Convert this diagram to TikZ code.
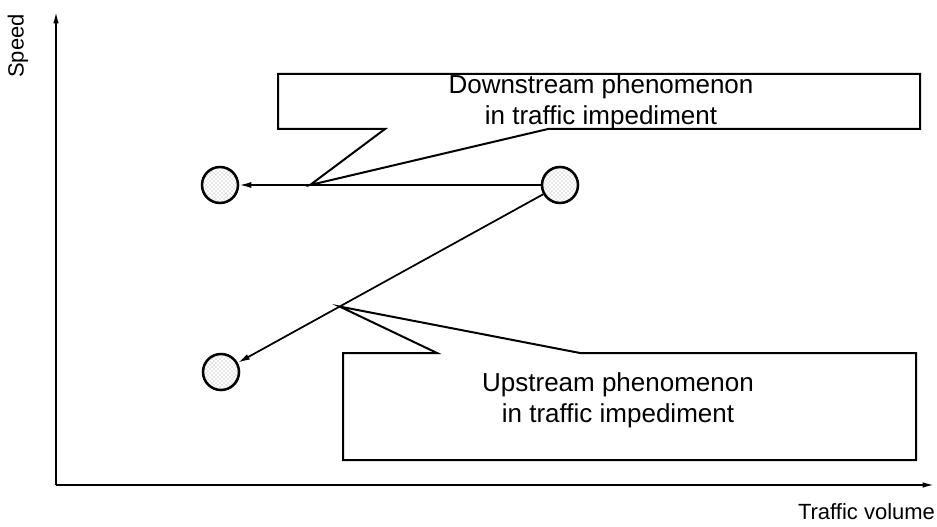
\documentclass[tikz,border=0pt]{standalone}
\usepackage{fontspec}
\setmainfont{Liberation Sans}
\usetikzlibrary{arrows.meta,calc,patterns}
\begin{document}
\begin{tikzpicture}[x=0.75pt, y=-0.75pt, line width=1.6pt,
  every node/.style={font=\fontsize{16.5}{20}\selectfont},
  state/.style={draw, circle, line width=1.9pt, fill=gray!12,
    pattern=crosshatch dots, pattern color=gray!80, minimum size=27pt, inner sep=0pt},
  move/.style={-{Latex[length=9pt,width=4.5pt]}, line width=1.3pt},
  callout/.style={draw, line width=1.5pt, fill=white},
  note/.style={align=center, font=\fontsize{19.5}{23.5}\selectfont}]
  \useasboundingbox (0,0) rectangle (937,527);
  % axes
  \coordinate (origin) at (56,485);
  \coordinate (ytop) at (56,10);
  \coordinate (xend) at (936,485);
  \draw[-{Latex[length=10pt,width=4pt]}] (origin) -- (ytop);
  \draw[-{Latex[length=10pt,width=4pt]}] (origin) -- (xend);
  \node[rotate=90] (ylab) at (18,46) {Speed};
  \node[anchor=east, inner sep=0pt] (xlab) at (936,512) {Traffic volume};
  % operating points
  \node[state] (start) at (560,185) {};
  \node[state] (down) at (220,185) {};
  \node[state] (up) at (221,372) {};
  \draw[move] (start) -- (down);
  \draw[move] (start) -- (up);
  \coordinate (dtip) at ($(start)!0.735!(down)$);
  \coordinate (utip) at ($(start)!0.65!(up)$);
  % callout boxes
  \draw[callout] (278,74) -- (920,74) -- (920,129) -- (548,129) -- (dtip)
    -- (385,129) -- (278,129) -- cycle;
  \node[note] (dtext) at (601,102) {Downstream phenomenon\\in traffic impediment};
  \draw[callout] (343,353) -- (437,353) -- (utip) -- (580,353) -- (916,353)
    -- (916,460) -- (343,460) -- cycle;
  \node[note] (utext) at (618,400) {Upstream phenomenon\\in traffic impediment};
\end{tikzpicture}
\end{document}
